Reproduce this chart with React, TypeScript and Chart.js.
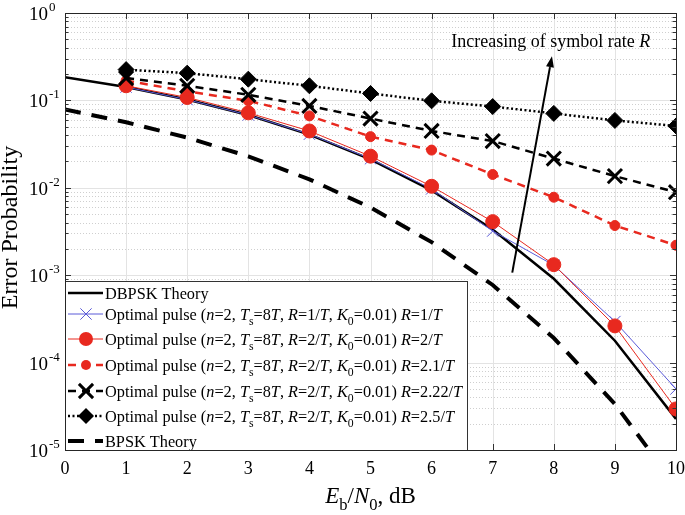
import React, { useEffect, useRef } from 'react';
import { Chart, registerables } from 'chart.js';
Chart.register(...registerables);

// ---------- data ----------
const snrTheory = [0, 1, 2, 3, 4, 5, 6, 7, 8, 9, 10];
const snrSim = [1, 2, 3, 4, 5, 6, 7, 8, 9, 10];
const dbpskTheory = [0.184, 0.142, 0.1025, 0.068, 0.0406, 0.0212, 0.00933, 0.00333, 0.00091, 0.000178, 0.0000227];
const bpskTheory = [0.0786, 0.0563, 0.0375, 0.0229, 0.0125, 0.00595, 0.00239, 0.000773, 0.000191, 0.0000336, 0.00000387];
const optR1 = [0.142, 0.102, 0.068, 0.041, 0.0215, 0.0097, 0.0032, 0.0013, 0.000295, 0.00005];
const optR2 = [0.147, 0.108, 0.072, 0.0447, 0.023, 0.0104, 0.0041, 0.00132, 0.000263, 0.0000295];
const optR21 = [0.168, 0.127, 0.099, 0.0665, 0.0385, 0.027, 0.0142, 0.0078, 0.0037, 0.0022];
const optR222 = [0.18, 0.147, 0.116, 0.0865, 0.062, 0.0447, 0.0343, 0.0216, 0.0136, 0.0089];
const optR25 = [0.225, 0.205, 0.175, 0.147, 0.12, 0.099, 0.085, 0.071, 0.059, 0.051];

const xTicks = [0, 1, 2, 3, 4, 5, 6, 7, 8, 9, 10];
const yDecades = [0, -1, -2, -3, -4, -5];

// legend labels: *x* italic, _c subscript char
const legendLabels = [
  'DBPSK Theory',
  'Optimal pulse (*n*=2, *T*_s=8*T*, *R*=1/*T*, *K*_0=0.01) *R*=1/*T*',
  'Optimal pulse (*n*=2, *T*_s=8*T*, *R*=2/*T*, *K*_0=0.01) *R*=2/*T*',
  'Optimal pulse (*n*=2, *T*_s=8*T*, *R*=2/*T*, *K*_0=0.01) *R*=2.1/*T*',
  'Optimal pulse (*n*=2, *T*_s=8*T*, *R*=2/*T*, *K*_0=0.01) *R*=2.22/*T*',
  'Optimal pulse (*n*=2, *T*_s=8*T*, *R*=2/*T*, *K*_0=0.01) *R*=2.5/*T*',
  'BPSK Theory',
];
const xTitle = '*E*_b/*N*_0, dB';
const yTitle = 'Error Probability';
const annotationText = 'Increasing of symbol rate *R*';

const FONT = '"Liberation Serif", "Times New Roman", serif';
const RED = '#e8291f';
const BLUE = '#5a5ad8';

type Seg = { t: string; i: boolean; sub: boolean };
function parseRich(s: string): Seg[] {
  const segs: Seg[] = [];
  let italic = false;
  let buf = '';
  const flush = () => { if (buf) { segs.push({ t: buf, i: italic, sub: false }); buf = ''; } };
  for (let k = 0; k < s.length; k++) {
    const c = s[k];
    if (c === '*') { flush(); italic = !italic; }
    else if (c === '_') { flush(); segs.push({ t: s[k + 1], i: false, sub: true }); k++; }
    else buf += c;
  }
  flush();
  return segs;
}
function richFont(seg: Seg, size: number) {
  const sz = seg.sub ? size * 0.72 : size;
  return `${seg.i ? 'italic ' : ''}${sz}px ${FONT}`;
}
function richWidth(ctx: CanvasRenderingContext2D, s: string, size: number) {
  let w = 0;
  for (const seg of parseRich(s)) { ctx.font = richFont(seg, size); w += ctx.measureText(seg.t).width; }
  return w;
}
function drawRich(ctx: CanvasRenderingContext2D, s: string, x: number, baseline: number, size: number) {
  ctx.textAlign = 'left';
  ctx.textBaseline = 'alphabetic';
  let cx = x;
  for (const seg of parseRich(s)) {
    ctx.font = richFont(seg, size);
    ctx.fillText(seg.t, cx, seg.sub ? baseline + size * 0.32 : baseline);
    cx += ctx.measureText(seg.t).width;
  }
  return cx - x;
}

function marker(ctx: CanvasRenderingContext2D, style: string, x: number, y: number, r: number, color: string, bw: number) {
  ctx.save();
  ctx.setLineDash([]);
  ctx.fillStyle = color;
  ctx.strokeStyle = color;
  ctx.lineWidth = bw;
  ctx.beginPath();
  if (style === 'circle') { ctx.arc(x, y, r, 0, Math.PI * 2); ctx.fill(); }
  else if (style === 'rectRot') { ctx.moveTo(x, y - r); ctx.lineTo(x + r, y); ctx.lineTo(x, y + r); ctx.lineTo(x - r, y); ctx.closePath(); ctx.fill(); }
  else if (style === 'crossRot') { const o = r * Math.SQRT1_2; ctx.moveTo(x - o, y - o); ctx.lineTo(x + o, y + o); ctx.moveTo(x + o, y - o); ctx.lineTo(x - o, y + o); ctx.stroke(); }
  ctx.restore();
}

type Sty = { color: string; width: number; dash: number[]; point: string; r: number; pbw: number };
const styles: Sty[] = [
  { color: '#000', width: 2.5, dash: [], point: '', r: 0, pbw: 0 },
  { color: BLUE, width: 1, dash: [], point: 'crossRot', r: 8, pbw: 1 },
  { color: RED, width: 1, dash: [], point: 'circle', r: 7, pbw: 1 },
  { color: RED, width: 2.5, dash: [8, 6], point: 'circle', r: 5, pbw: 1 },
  { color: '#000', width: 2.5, dash: [8, 6], point: 'crossRot', r: 10, pbw: 3 },
  { color: '#000', width: 2.5, dash: [2, 2.5], point: 'rectRot', r: 8, pbw: 1 },
  { color: '#000', width: 4, dash: [16, 11], point: '', r: 0, pbw: 0 },
];

const decoPlugin = {
  id: 'deco',
  beforeDatasetsDraw(chart: any) {
    const { ctx, chartArea: a, scales } = chart;
    const x = scales.x, y = scales.y;
    ctx.save();
    ctx.lineWidth = 1;
    ctx.strokeStyle = '#cfcfcf';
    ctx.setLineDash([1, 2]);
    for (let e = -5; e < 0; e++) {
      for (let m = 2; m <= 9; m++) {
        const py = Math.round(y.getPixelForValue(m * Math.pow(10, e))) + 0.5;
        ctx.beginPath(); ctx.moveTo(a.left, py); ctx.lineTo(a.right, py); ctx.stroke();
      }
    }
    ctx.setLineDash([]);
    ctx.strokeStyle = '#e3e3e3';
    for (const e of yDecades) {
      const py = Math.round(y.getPixelForValue(Math.pow(10, e))) + 0.5;
      ctx.beginPath(); ctx.moveTo(a.left, py); ctx.lineTo(a.right, py); ctx.stroke();
    }
    for (const v of xTicks) {
      const px = Math.round(x.getPixelForValue(v)) + 0.5;
      ctx.beginPath(); ctx.moveTo(px, a.top); ctx.lineTo(px, a.bottom); ctx.stroke();
    }
    ctx.restore();
  },
  afterDatasetsDraw(chart: any) {
    const { ctx, chartArea: a, scales } = chart;
    const x = scales.x, y = scales.y;
    ctx.save();
    ctx.strokeStyle = '#333';
    ctx.lineWidth = 1;
    ctx.setLineDash([]);
    for (let e = -5; e <= 0; e++) {
      for (let m = 1; m <= 9; m++) {
        if (e === 0 && m > 1) break;
        const py = Math.round(y.getPixelForValue(m * Math.pow(10, e))) + 0.5;
        const len = m === 1 ? 6 : 3.5;
        ctx.beginPath();
        ctx.moveTo(a.left, py); ctx.lineTo(a.left + len, py);
        ctx.moveTo(a.right, py); ctx.lineTo(a.right - len, py);
        ctx.stroke();
      }
    }
    for (const v of xTicks) {
      const px = Math.round(x.getPixelForValue(v)) + 0.5;
      ctx.beginPath();
      ctx.moveTo(px, a.bottom); ctx.lineTo(px, a.bottom - 6);
      ctx.moveTo(px, a.top); ctx.lineTo(px, a.top + 6);
      ctx.stroke();
    }
    // annotation arrow
    const x0 = x.getPixelForValue(7.32), y0 = y.getPixelForValue(0.00107);
    const x1 = x.getPixelForValue(7.97), y1 = y.getPixelForValue(0.32);
    const ang = Math.atan2(y1 - y0, x1 - x0);
    const hl = 11, hw = 4;
    const bx = x1 - hl * Math.cos(ang), by = y1 - hl * Math.sin(ang);
    ctx.strokeStyle = '#000';
    ctx.fillStyle = '#000';
    ctx.lineWidth = 2;
    ctx.beginPath(); ctx.moveTo(x0, y0); ctx.lineTo(bx, by); ctx.stroke();
    ctx.beginPath();
    ctx.moveTo(x1, y1);
    ctx.lineTo(bx + hw * Math.sin(ang), by - hw * Math.cos(ang));
    ctx.lineTo(bx - hw * Math.sin(ang), by + hw * Math.cos(ang));
    ctx.closePath(); ctx.fill();
    const tw = richWidth(ctx, annotationText, 18);
    drawRich(ctx, annotationText, x.getPixelForValue(7.95) - tw / 2, y.getPixelForValue(0.48) + 6, 18);

    // legend box
    const lx = a.left, lw = 402, lh = 169, ly = a.bottom - lh;
    ctx.fillStyle = '#fff';
    ctx.fillRect(lx, ly, lw, lh);
    ctx.strokeStyle = '#333';
    ctx.lineWidth = 1;
    ctx.strokeRect(lx + 0.5, ly + 0.5, lw, lh);
    const rows = [12, 33, 58, 84, 110, 135, 160];
    legendLabels.forEach((lab, i) => {
      const s = styles[i];
      const cy = ly + rows[i];
      ctx.save();
      ctx.strokeStyle = s.color;
      ctx.lineWidth = s.width;
      ctx.setLineDash(s.dash);
      ctx.beginPath(); ctx.moveTo(lx + 3, cy); ctx.lineTo(lx + 38, cy); ctx.stroke();
      ctx.restore();
      if (s.point) marker(ctx, s.point, lx + 21, cy, s.r, s.color, s.pbw);
      ctx.fillStyle = '#000';
      drawRich(ctx, lab, lx + 40, cy + 6, 16.3);
    });

    // axes box
    ctx.strokeStyle = '#262626';
    ctx.lineWidth = 1;
    ctx.setLineDash([]);
    ctx.strokeRect(Math.round(a.left) + 0.5, Math.round(a.top) + 0.5, Math.round(a.right - a.left), Math.round(a.bottom - a.top));

    // y tick labels
    ctx.fillStyle = '#000';
    for (const e of yDecades) {
      const py = y.getPixelForValue(Math.pow(10, e));
      ctx.font = `19px ${FONT}`;
      ctx.textAlign = 'right';
      ctx.textBaseline = 'alphabetic';
      ctx.fillText('10', a.left - 17, py + 7);
      ctx.font = `13px ${FONT}`;
      ctx.textAlign = 'left';
      ctx.fillText(e === 0 ? '0' : '-' + String(-e), a.left - 16, py - 2);
    }
    // x title
    const xw = richWidth(ctx, xTitle, 23);
    drawRich(ctx, xTitle, (a.left + a.right) / 2 - xw / 2, 503, 23);
    // y title
    ctx.save();
    ctx.translate(11, (a.top + a.bottom) / 2 - 4);
    ctx.rotate(-Math.PI / 2);
    ctx.font = `24px ${FONT}`;
    ctx.textAlign = 'center';
    ctx.textBaseline = 'middle';
    ctx.fillText(yTitle, 0, 0);
    ctx.restore();
    ctx.restore();
  },
};

function ds(label: string, xs: number[], ys: number[], s: Sty, order: number) {
  return {
    label,
    data: xs.map((v, i) => ({ x: v, y: ys[i] })),
    borderColor: s.color,
    backgroundColor: s.color,
    borderWidth: s.width,
    borderDash: s.dash,
    pointStyle: s.point || false,
    pointRadius: s.point ? s.r : 0,
    pointBorderWidth: s.pbw,
    pointBackgroundColor: s.color,
    pointBorderColor: s.color,
    tension: 0,
    fill: false,
    order,
  };
}

export default function App() {
  const ref = useRef<HTMLCanvasElement>(null);
  useEffect(() => {
    if (!ref.current) return;
    const chart = new Chart(ref.current, {
      type: 'line',
      data: {
        datasets: [
          ds(legendLabels[0], snrTheory, dbpskTheory, styles[0], 6),
          ds(legendLabels[1], snrSim, optR1, styles[1], 5),
          ds(legendLabels[2], snrSim, optR2, styles[2], 4),
          ds(legendLabels[3], snrSim, optR21, styles[3], 3),
          ds(legendLabels[4], snrSim, optR222, styles[4], 2),
          ds(legendLabels[5], snrSim, optR25, styles[5], 1),
          ds(legendLabels[6], snrTheory, bpskTheory, styles[6], 7),
        ] as any,
      },
      options: {
        responsive: false,
        animation: false,
        layout: { autoPadding: false, padding: { top: 13, right: 9, left: 0, bottom: 0 } },
        plugins: { legend: { display: false }, tooltip: { enabled: false } },
        scales: {
          x: {
            type: 'linear', min: 0, max: 10,
            ticks: { stepSize: 1, font: { family: FONT, size: 18 }, color: '#000', padding: 8 },
            grid: { display: false, drawTicks: false },
            border: { display: false },
            afterFit: (s: any) => { s.height = 65; s.paddingLeft = 0; s.paddingRight = 0; },
          },
          y: {
            type: 'logarithmic', min: 1e-5, max: 1,
            ticks: { display: false },
            grid: { display: false, drawTicks: false },
            border: { display: false },
            afterFit: (s: any) => { s.width = 65; s.paddingTop = 0; s.paddingBottom = 0; },
          },
        },
      } as any,
      plugins: [decoPlugin],
    });
    return () => chart.destroy();
  }, []);
  return (
    <div style={{ position: 'fixed', left: 0, top: 0, width: 685, height: 515, background: '#fff' }}>
      <canvas ref={ref} width={685} height={515} style={{ width: 685, height: 515, display: 'block' }} />
    </div>
  );
}
